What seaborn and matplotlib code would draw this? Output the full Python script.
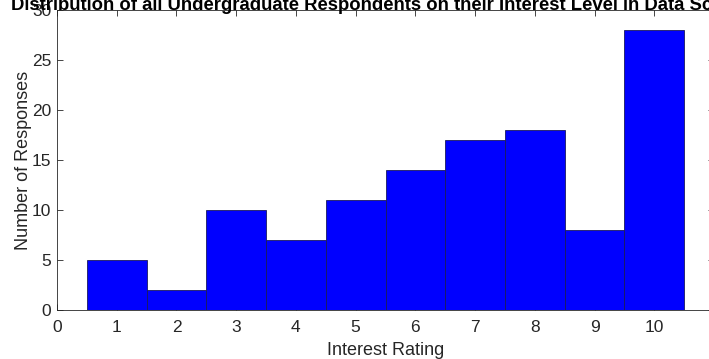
import numpy as np
import pandas as pd
import matplotlib
matplotlib.use("Agg")
import matplotlib.pyplot as plt
import seaborn as sns

ratings = [1, 2, 3, 4, 5, 6, 7, 8, 9, 10]
counts = [5, 2, 10, 7, 11, 14, 17, 18, 8, 28]
title = "Distribution of all Undergraduate Respondents on their Interest Level in Data Science"
xlabel = "Interest Rating"
ylabel = "Number of Responses"

sns.set_theme(style="white")
plt.rcParams['font.family'] = ['Liberation Sans', 'DejaVu Sans']

df = pd.DataFrame({"rating": ratings, "count": counts})

fig = plt.figure(figsize=(7.09, 3.59), dpi=100)
ax = fig.add_axes([57/709, 49/359, 657/709, 300/359])

sns.histplot(data=df, x="rating", weights="count", discrete=True, ax=ax,
             color="#0000FF", edgecolor="#1a1a5e", linewidth=0.6, alpha=1.0)

ax.set_xlim(0, 11)
ax.set_ylim(0, 30)
ax.set_xticks(range(0, 11))
ax.set_yticks(range(0, 31, 5))
ax.tick_params(direction="in", length=4, width=0.6, colors="#262626",
               labelsize=12.5, top=True, right=True, bottom=True, left=True)
ax.tick_params(axis="x", pad=7)
ax.tick_params(axis="y", pad=4)
for s in ax.spines.values():
    s.set_color("#262626")
    s.set_linewidth(0.6)
    s.set_visible(True)

ax.set_xlabel(xlabel, fontsize=13, color="#262626", labelpad=5)
ax.set_ylabel(ylabel, fontsize=13, color="#262626", labelpad=0)
ax.set_title(title, fontsize=13.3, fontweight="bold", color="black", pad=0)

fig.savefig("out.png", dpi=100)
